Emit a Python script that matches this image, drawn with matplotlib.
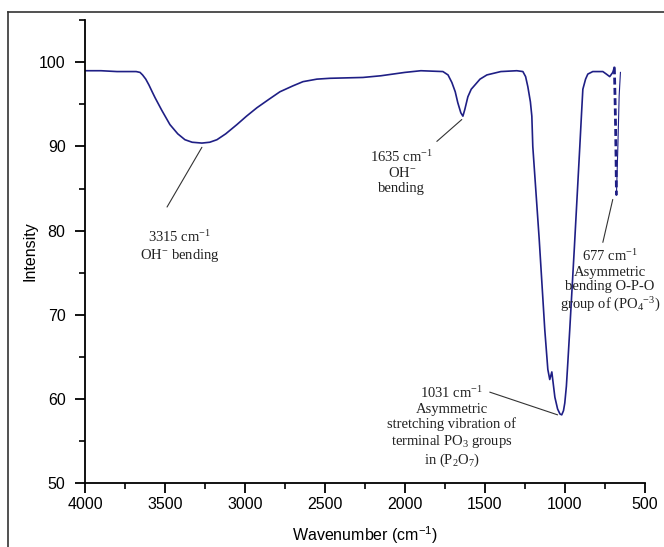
import matplotlib
matplotlib.use("Agg")
import matplotlib.pyplot as plt
from matplotlib.lines import Line2D
from matplotlib.ticker import MultipleLocator

plt.rcParams["mathtext.default"] = "regular"

# spectrum (wavenumber cm-1, intensity)
wavenumber = [4000, 3900, 3800, 3700, 3680, 3656, 3640, 3620, 3600, 3580, 3562,
              3520, 3469, 3420, 3375, 3330, 3269, 3220, 3175, 3120, 3050, 2990,
              2925, 2850, 2781, 2700, 2637, 2550, 2469, 2262, 2150, 2000, 1900,
              1762, 1730, 1706, 1685, 1669, 1650, 1637, 1625, 1606, 1585, 1562,
              1530, 1487, 1400, 1300, 1262, 1245, 1231, 1215, 1206, 1200, 1160,
              1125, 1106, 1094, 1081, 1062, 1045, 1030, 1019, 1008, 1000, 990,
              981, 969, 940, 906, 895, 887, 870, 856, 825, 762, 740, 719, 700, 690]
intensity = [99.0, 99.0, 98.9, 98.9, 98.9, 98.8, 98.5, 98.0, 97.3, 96.5, 95.8,
             94.3, 92.6, 91.5, 90.8, 90.5, 90.4, 90.5, 90.8, 91.5, 92.6, 93.6,
             94.6, 95.6, 96.5, 97.2, 97.7, 98.0, 98.1, 98.2, 98.4, 98.8, 99.0,
             98.9, 98.5, 97.6, 96.5, 95.2, 94.0, 93.6, 94.4, 95.9, 96.8, 97.3,
             98.0, 98.5, 98.9, 99.0, 98.9, 98.3, 97.1, 95.3, 93.6, 90.0, 79.0,
             68.2, 63.5, 62.3, 63.2, 60.2, 58.8, 58.2, 58.1, 58.6, 59.5, 61.5,
             64.3, 68.2, 78.0, 90.0, 94.0, 96.8, 98.0, 98.6, 98.9, 98.9, 98.6,
             98.3, 98.8, 99.4]

# broken (dashed looking) part near 677 and the thin return trace
wn_dash = [690, 686, 682, 679, 677]
int_dash = [99.4, 96.0, 92.0, 88.0, 84.2]
wn_tail = [677, 668, 660, 652]
int_tail = [84.2, 90.0, 96.0, 98.8]

xticks = [4000, 3500, 3000, 2500, 2000, 1500, 1000, 500]
yticks = [50, 60, 70, 80, 90, 100]

color = "#1f1f85"
serif = "Liberation Serif"
sans = "Liberation Sans"

fig = plt.figure(figsize=(6.64, 5.47), dpi=100)
ax = fig.add_axes([0.128, 0.117, 0.843, 0.846])

ax.plot(wavenumber, intensity, color=color, lw=1.2)
ax.plot(wn_dash, int_dash, color=color, lw=2.0, ls=(0, (2.5, 1.2)))
ax.plot(wn_tail, int_tail, color=color, lw=0.8)

ax.set_xlim(4000, 500)
ax.set_ylim(50, 105)
ax.set_xticks(xticks)
ax.set_yticks(yticks)
ax.xaxis.set_minor_locator(MultipleLocator(250))
ax.yaxis.set_minor_locator(MultipleLocator(5))
for s in ["top", "right"]:
    ax.spines[s].set_visible(False)
for s in ["left", "bottom"]:
    ax.spines[s].set_linewidth(1.3)
ax.tick_params(which="major", length=7, width=1.3, direction="out", labelsize=11.5)
ax.tick_params(axis="y", which="major", pad=7)
ax.tick_params(axis="x", which="major", pad=3)
ax.tick_params(which="minor", length=4, width=1.2, direction="out")
for lab in ax.get_xticklabels() + ax.get_yticklabels():
    lab.set_fontfamily(sans)

ax.set_xlabel("Wavenumber (cm$^{-1}$)", fontsize=11.5, fontfamily=sans, labelpad=9)
ax.set_ylabel("Intensity", fontsize=11.5, fontfamily=sans, labelpad=1)

# outer frame (only left and top edges fall inside the image)
fig.add_artist(Line2D([0.012, 0.012], [0.978, -0.1], transform=fig.transFigure,
                      color="#333333", lw=1.2))
fig.add_artist(Line2D([0.012, 1.1], [0.978, 0.978], transform=fig.transFigure,
                      color="#333333", lw=1.2))

tkw = dict(fontsize=10.5, fontfamily=serif, ha="center", va="center",
           linespacing=1.15, color="#222222")
lkw = dict(arrowstyle="-", color="#333333", lw=0.8, shrinkA=0, shrinkB=0)

ax.text(3406, 78.1, "3315 cm$^{-1}$\nOH$^{-}$ bending", **tkw)
ax.annotate("", xy=(3269, 89.9), xytext=(3487, 82.8), arrowprops=lkw)

ax.text(2019, 87.0, "1635 cm$^{-1}$\nOH$^{-}$\nbending", **tkw)
ax.annotate("", xy=(1644, 93.2), xytext=(1800, 90.6), arrowprops=lkw)

ax.text(1706, 56.6, "1031 cm$^{-1}$\nAsymmetric\nstretching vibration of\nterminal PO$_{3}$ groups\nin (P$_{2}$O$_{7}$)", **tkw)
ax.annotate("", xy=(1045, 58.1), xytext=(1469, 60.8), arrowprops=lkw)

ax.text(719, 74.0, "677 cm$^{-1}$\nAsymmetric\nbending O-P-O\ngroup of (PO$_{4}$$^{-3}$)", **tkw)
ax.annotate("", xy=(700, 83.7), xytext=(762, 78.6), arrowprops=lkw)

fig.savefig("out.png", dpi=100)
